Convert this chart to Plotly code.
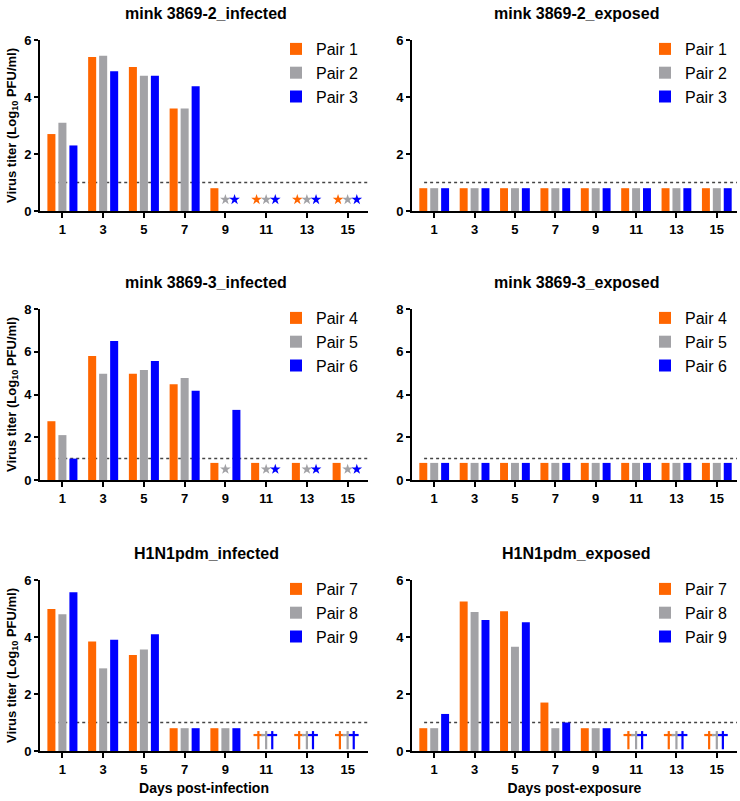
import plotly.graph_objects as go

# ---------------- data ----------------
days = [1, 3, 5, 7, 9, 11, 13, 15]
day_ticks = ["1", "3", "5", "7", "9", "11", "13", "15"]

titles = ["mink 3869-2_infected", "mink 3869-2_exposed",
          "mink 3869-3_infected", "mink 3869-3_exposed",
          "H1N1pdm_infected", "H1N1pdm_exposed"]

pairs_row1 = ["Pair 1", "Pair 2", "Pair 3"]
pairs_row2 = ["Pair 4", "Pair 5", "Pair 6"]
pairs_row3 = ["Pair 7", "Pair 8", "Pair 9"]

# None = not detected (star) / dead (dagger)
m2_inf_p1 = [2.7, 5.4, 5.05, 3.6, 0.8, None, None, None]
m2_inf_p2 = [3.1, 5.45, 4.75, 3.6, None, None, None, None]
m2_inf_p3 = [2.3, 4.9, 4.75, 4.38, None, None, None, None]

m2_exp_p1 = [0.8, 0.8, 0.8, 0.8, 0.8, 0.8, 0.8, 0.8]
m2_exp_p2 = [0.8, 0.8, 0.8, 0.8, 0.8, 0.8, 0.8, 0.8]
m2_exp_p3 = [0.8, 0.8, 0.8, 0.8, 0.8, 0.8, 0.8, 0.8]

m3_inf_p4 = [2.75, 5.8, 4.97, 4.48, 0.8, 0.8, 0.8, 0.8]
m3_inf_p5 = [2.1, 4.97, 5.15, 4.77, None, None, None, None]
m3_inf_p6 = [1.0, 6.5, 5.57, 4.18, 3.28, None, None, None]

m3_exp_p4 = [0.8, 0.8, 0.8, 0.8, 0.8, 0.8, 0.8, 0.8]
m3_exp_p5 = [0.8, 0.8, 0.8, 0.8, 0.8, 0.8, 0.8, 0.8]
m3_exp_p6 = [0.8, 0.8, 0.8, 0.8, 0.8, 0.8, 0.8, 0.8]

h1_inf_p7 = [4.98, 3.84, 3.37, 0.8, 0.8, None, None, None]
h1_inf_p8 = [4.8, 2.9, 3.56, 0.8, 0.8, None, None, None]
h1_inf_p9 = [5.57, 3.9, 4.1, 0.8, 0.8, None, None, None]

h1_exp_p7 = [0.8, 5.25, 4.9, 1.7, 0.8, None, None, None]
h1_exp_p8 = [0.8, 4.88, 3.66, 0.8, 0.8, None, None, None]
h1_exp_p9 = [1.3, 4.6, 4.52, 1.0, 0.8, None, None, None]

limit_of_detection = 1.0
y_max = [6, 6, 8, 8, 6, 6]

# ---------------- style ----------------
colors = ["#FF6600", "#A2A2A6", "#0000FF"]
FONT = "Liberation Sans, Arial, sans-serif"

panels = [
    (titles[0], pairs_row1, [m2_inf_p1, m2_inf_p2, m2_inf_p3], "star"),
    (titles[1], pairs_row1, [m2_exp_p1, m2_exp_p2, m2_exp_p3], "star"),
    (titles[2], pairs_row2, [m3_inf_p4, m3_inf_p5, m3_inf_p6], "star"),
    (titles[3], pairs_row2, [m3_exp_p4, m3_exp_p5, m3_exp_p6], "star"),
    (titles[4], pairs_row3, [h1_inf_p7, h1_inf_p8, h1_inf_p9], "dagger"),
    (titles[5], pairs_row3, [h1_exp_p7, h1_exp_p8, h1_exp_p9], "dagger"),
]

W, H = 740, 801
col_px = [(40, 368), (412, 737)]
row_px = [(40, 211), (309, 480), (580, 751)]

def px_x(p):
    return p / W

def px_y(p):
    return 1 - p / H

fig = go.Figure()
layout = dict(
    width=W, height=H,
    margin=dict(l=0, r=0, t=0, b=0),
    paper_bgcolor="white", plot_bgcolor="white",
    barmode="group", bargap=0.19, bargroupgap=0.27,
    font=dict(family=FONT, color="black"),
    shapes=[], annotations=[],
)

star_off = [-0.47, 0.0, 0.45]
dag_off = [-0.38, 0.0, 0.3]

for k, (title, names, series, mark) in enumerate(panels):
    r, c = k // 2, k % 2
    n = k + 1
    xa = "x" if n == 1 else f"x{n}"
    ya = "y" if n == 1 else f"y{n}"
    leg = "legend" if n == 1 else f"legend{n}"
    for i, (name, vals) in enumerate(zip(names, series)):
        fig.add_trace(go.Bar(
            x=days, y=vals, name=name, marker=dict(color=colors[i], line=dict(width=0)),
            xaxis=xa, yaxis=ya, legend=leg, showlegend=True,
        ))
    # markers for not detected (star) / dead (dagger)
    for i, vals in enumerate(series):
        mx = [d for d, v in zip(days, vals) if v is None]
        if not mx:
            continue
        if mark == "star":
            yv = 0.4 if y_max[k] == 6 else 0.5
            fig.add_trace(go.Scatter(
                x=[d + star_off[i] for d in mx], y=[yv] * len(mx), mode="markers",
                marker=dict(symbol="star", size=8, color=colors[i], line=dict(width=0)),
                xaxis=xa, yaxis=ya, showlegend=False, hoverinfo="skip",
            ))
        else:
            xs = [d + dag_off[i] for d in mx]
            # dagger = vertical stem + short cross bar near the top
            fig.add_trace(go.Scatter(
                x=xs, y=[0.38] * len(mx), mode="markers",
                marker=dict(symbol="line-ns", size=13,
                            line=dict(width=2.2, color=colors[i])),
                xaxis=xa, yaxis=ya, showlegend=False, hoverinfo="skip",
            ))
            fig.add_trace(go.Scatter(
                x=xs, y=[0.56] * len(mx), mode="markers",
                marker=dict(symbol="line-ew", size=7,
                            line=dict(width=2.2, color=colors[i])),
                xaxis=xa, yaxis=ya, showlegend=False, hoverinfo="skip",
            ))

    x0, x1 = col_px[c]
    t0, b0 = row_px[r]
    xkey = "xaxis" if n == 1 else f"xaxis{n}"
    ykey = "yaxis" if n == 1 else f"yaxis{n}"
    layout[xkey] = dict(
        domain=[px_x(x0), px_x(x1)], anchor=ya, range=[-0.1, 16],
        tickmode="array", tickvals=days, ticktext=day_ticks,
        ticks="outside", ticklen=5, tickwidth=2, tickcolor="black",
        showline=True, linewidth=2, linecolor="black", showgrid=False, zeroline=False,
        tickfont=dict(family=FONT, size=13, color="black", weight="bold"),
        automargin=False,
    )
    if r == 2:
        layout[xkey]["title"] = dict(
            text="Days post-infection" if c == 0 else "Days post-exposure",
            font=dict(family=FONT, size=14, color="black", weight="bold"), standoff=8)
    layout[ykey] = dict(
        domain=[px_y(b0), px_y(t0)], anchor=xa, range=[0, y_max[k]],
        tickmode="linear", tick0=0, dtick=2,
        ticks="outside", ticklen=4, tickwidth=2, tickcolor="black",
        showline=True, linewidth=2, linecolor="black", showgrid=False, zeroline=False,
        tickfont=dict(family=FONT, size=13, color="black", weight="bold"),
        automargin=False,
    )
    if c == 0:
        layout[ykey]["title"] = dict(
            text="Virus titer (Log<sub>10</sub> PFU/ml)",
            font=dict(family=FONT, size=13, color="black", weight="bold"), standoff=5)

    layout["shapes"].append(dict(
        type="line", xref=xa, yref=ya, x0=0.5, x1=16,
        y0=limit_of_detection, y1=limit_of_detection,
        line=dict(color="#444444", width=1.5, dash="dot"), layer="below"))

    layout["annotations"].append(dict(
        text=f"<b>{title}</b>", xref="paper", yref="paper",
        x=px_x((x0 + x1) / 2 + 2), y=px_y(t0 - 27), xanchor="center", yanchor="middle",
        showarrow=False, font=dict(family=FONT, size=16, color="black")))

    layout[leg] = dict(
        x=px_x(x1 - 92), y=px_y(t0 - 8), xanchor="left", yanchor="top",
        bgcolor="rgba(0,0,0,0)", font=dict(family=FONT, size=16, color="black"),
        traceorder="normal", itemclick=False, itemdoubleclick=False,
    )

fig.update_layout(**layout)
fig.write_html(
    "out.html",
    config={"displayModeBar": False},
    post_script="document.body.style.margin='0';document.body.style.overflow='hidden';",
)
